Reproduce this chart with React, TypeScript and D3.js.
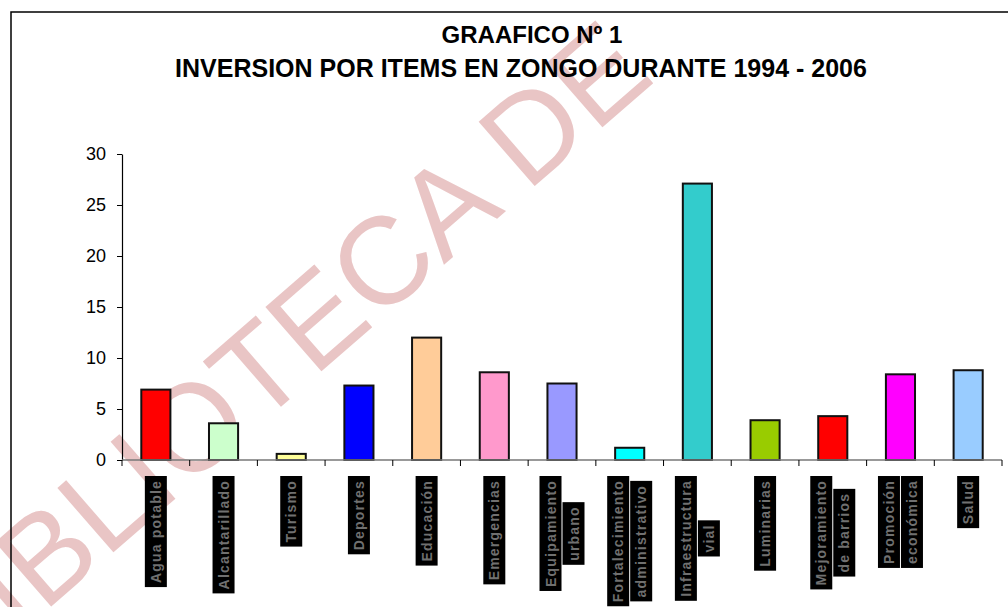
import React, { useEffect, useRef } from 'react';
import * as d3 from 'd3';

// chart data
const categories = [
  'Agua potable',
  'Alcantarillado',
  'Turismo',
  'Deportes',
  'Educación',
  'Emergencias',
  'Equipamiento\nurbano',
  'Fortalecimiento\nadministrativo',
  'Infraestructura\nvial',
  'Luminarias',
  'Mejoramiento\nde barrios',
  'Promoción\neconómica',
  'Salud',
];
const values = [6.9, 3.6, 0.6, 7.3, 12.0, 8.6, 7.5, 1.2, 27.1, 3.9, 4.3, 8.4, 8.8];
const barColors = [
  '#ff0000', '#ccffcc', '#ffff99', '#0000ff', '#ffcc99', '#ff99cc', '#9999ff',
  '#00ffff', '#33cccc', '#99cc00', '#ff0000', '#ff00ff', '#99ccff',
];
const yTicks = [0, 5, 10, 15, 20, 25, 30];
const titleLines = ['GRAAFICO Nº 1', 'INVERSION POR ITEMS EN ZONGO DURANTE 1994 - 2006'];
const watermark = 'BIBLIOTECA DE';

const WIDTH = 1008;
const HEIGHT = 607;

export default function App() {
  const svgRef = useRef<SVGSVGElement>(null);

  useEffect(() => {
    if (!svgRef.current) return;
    const svg = d3.select(svgRef.current);
    svg.selectAll('*').remove();

    const left = 122;
    const right = 1002;
    const top = 154;
    const bottom = 460;

    const x = d3.scaleBand<string>()
      .domain(categories)
      .range([left, right])
      .paddingInner(0.57)
      .paddingOuter(0.285);

    const y = d3.scaleLinear().domain([0, 30]).range([bottom, top]);

    svg.append('rect').attr('width', WIDTH).attr('height', HEIGHT).attr('fill', '#fff');

    // watermark behind everything
    svg.append('text')
      .attr('transform', 'translate(-45,690) rotate(-41)')
      .attr('font-family', 'Liberation Sans, Arial, sans-serif')
      .attr('font-size', 124)
      .attr('fill', '#e9c5c5')
      .text(watermark);

    // chart frame (only top and left edges visible)
    svg.append('path')
      .attr('d', `M11,${HEIGHT} V12 H${WIDTH}`)
      .attr('fill', 'none')
      .attr('stroke', '#000')
      .attr('stroke-width', 1.5);

    // titles
    const title = svg.append('g')
      .attr('font-family', 'Liberation Sans, Arial, sans-serif')
      .attr('font-weight', 'bold')
      .attr('text-anchor', 'middle')
      .attr('fill', '#000');
    title.append('text').attr('x', 532).attr('y', 43).attr('font-size', 24).text(titleLines[0]);
    title.append('text').attr('x', 521).attr('y', 77).attr('font-size', 25).text(titleLines[1]);

    // y axis
    const yAxis = svg.append('g')
      .attr('transform', `translate(${left},0)`)
      .call(d3.axisLeft(y).tickValues(yTicks).tickSize(5).tickSizeOuter(0).tickPadding(11));
    yAxis.select('.domain').attr('stroke', '#000').attr('stroke-width', 1.2);
    yAxis.selectAll('.tick line').attr('stroke', '#000');
    yAxis.selectAll('.tick text')
      .attr('font-family', 'Liberation Sans, Arial, sans-serif')
      .attr('font-size', 18)
      .attr('fill', '#000');

    // bars
    svg.append('g')
      .selectAll('rect')
      .data(categories)
      .enter()
      .append('rect')
      .attr('x', d => x(d)!)
      .attr('y', (d, i) => y(values[i]))
      .attr('width', x.bandwidth())
      .attr('height', (d, i) => bottom - y(values[i]))
      .attr('fill', (d, i) => barColors[i])
      .attr('stroke', '#111')
      .attr('stroke-width', 2);

    // x axis with ticks on category boundaries
    const step = x.step();
    const bounds = d3.range(categories.length + 1).map(i => left + i * step);
    const xAxis = svg.append('g');
    xAxis.append('line')
      .attr('x1', left).attr('x2', right)
      .attr('y1', bottom).attr('y2', bottom)
      .attr('stroke', '#777').attr('stroke-width', 1.5);
    xAxis.selectAll('line.tick')
      .data(bounds)
      .enter()
      .append('line')
      .attr('class', 'tick')
      .attr('x1', d => d).attr('x2', d => d)
      .attr('y1', bottom).attr('y2', bottom + 6)
      .attr('stroke', '#000');

    // category labels: rotated grey text in black boxes, lines centred on each other
    const labelTop = 476;
    const lineGap = 23;
    const pad = 4;
    categories.forEach(cat => {
      const lines = cat.split('\n');
      const cx = x(cat)! + x.bandwidth() / 2;
      const g = svg.append('g');
      const texts = lines.map(line =>
        g.append('text')
          .attr('font-family', 'Liberation Sans, Arial, sans-serif')
          .attr('font-size', 14)
          .attr('font-weight', 'bold')
          .attr('letter-spacing', 1.2)
          .attr('fill', '#707070')
          .attr('text-anchor', 'middle')
          .attr('dominant-baseline', 'central')
          .text(line)
      );
      const lens = texts.map(t => (t.node() as SVGTextElement).getComputedTextLength());
      const maxLen = d3.max(lens) || 0;
      const cy = labelTop + maxLen / 2 + pad;
      texts.forEach((t, i) => {
        const dx = (i - (lines.length - 1) / 2) * lineGap;
        const h = lens[i] + pad * 2;
        g.insert('rect', 'text')
          .attr('x', cx + dx - 11)
          .attr('y', cy - h / 2)
          .attr('width', 22)
          .attr('height', h)
          .attr('fill', '#000');
        t.attr('transform', `translate(${cx + dx},${cy}) rotate(-90)`);
      });
    });
  }, []);

  return (
    <svg
      ref={svgRef}
      width={WIDTH}
      height={HEIGHT}
      style={{ position: 'absolute', left: 0, top: 0, display: 'block' }}
    />
  );
}
